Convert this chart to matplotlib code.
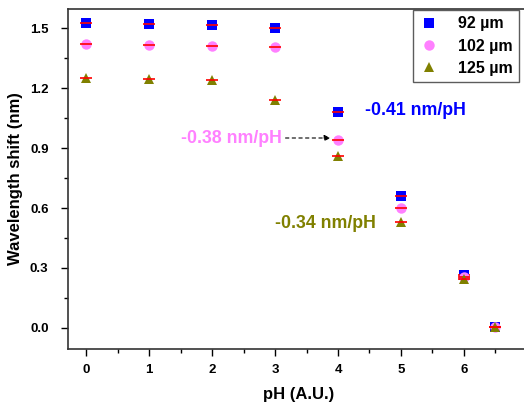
import matplotlib
matplotlib.use("Agg")
import matplotlib.pyplot as plt
import numpy as np

plt.rcParams["font.family"] = ["Liberation Sans", "DejaVu Sans"]
plt.rcParams["font.weight"] = "bold"

PH = [0, 1, 2, 3, 4, 5, 6, 6.5]
SHIFT_92 = [1.525, 1.52, 1.515, 1.50, 1.08, 0.66, 0.265, 0.005]
SHIFT_102 = [1.42, 1.415, 1.41, 1.405, 0.94, 0.60, 0.255, 0.005]
SHIFT_125 = [1.25, 1.245, 1.24, 1.14, 0.86, 0.53, 0.245, 0.005]

SERIES = [
    ("92 \u00b5m", SHIFT_92, "s", "#0000ff", 6.5),
    ("102 \u00b5m", SHIFT_102, "o", "#ff80ff", 7.5),
    ("125 \u00b5m", SHIFT_125, "^", "#808000", 7.5),
]

fig = plt.figure(figsize=(5.24, 4.03), dpi=100)
ax = fig.add_axes([68 / 524, 54 / 403, 462 / 524, 340 / 403])

for name, vals, mk, col, ms in SERIES:
    ax.plot(PH, vals, linestyle="none", marker=mk, color=col, markersize=ms,
            markeredgewidth=0, label=name)
    ax.plot(PH, vals, linestyle="none", marker="_", color="red", markersize=9,
            markeredgewidth=1.2)

ax.text(4.43, 1.09, "-0.41 nm/pH", color="#0000ff", fontsize=12.8,
        fontweight="bold", va="center", ha="left")
ax.annotate("-0.38 nm/pH", xy=(3.88, 0.95), xytext=(3.1, 0.95),
            color="#ff80ff", fontsize=12.8, fontweight="bold", va="center", ha="right",
            arrowprops=dict(arrowstyle="-|>", linestyle=(0, (3, 3)), color="black",
                            lw=0.8, shrinkA=1, shrinkB=0, mutation_scale=9))
ax.text(3.0, 0.525, "-0.34 nm/pH", color="#808000", fontsize=12.8,
        fontweight="bold", va="center", ha="left")

ax.set_xlim(-0.29, 7.05)
ax.set_ylim(-0.105, 1.595)
ax.set_xticks([0, 1, 2, 3, 4, 5, 6])
ax.set_xticks(np.arange(0.5, 7, 1), minor=True)
ax.set_yticks([0.0, 0.3, 0.6, 0.9, 1.2, 1.5])
ax.set_yticks([0.15, 0.45, 0.75, 1.05, 1.35], minor=True)
ax.set_yticklabels(["0.0", "0.3", "0.6", "0.9", "1.2", "1.5"])
ax.tick_params(direction="out", length=5, width=1, labelsize=9.5)
ax.tick_params(which="minor", direction="out", length=3, width=1)
ax.tick_params(axis="x", pad=6)
ax.tick_params(axis="y", pad=9)
for sp in ax.spines.values():
    sp.set_linewidth(1.2)
    sp.set_color("#333333")

ax.set_xlabel("pH (A.U.)", fontsize=12, fontweight="bold", labelpad=8)
ax.set_ylabel("Wavelength shift (nm)", fontsize=12, fontweight="bold", labelpad=5)

leg = ax.legend(loc="upper left", bbox_to_anchor=(345 / 462, 0.997), fontsize=11.5,
                frameon=True, fancybox=False, edgecolor="#333333", handletextpad=1.2,
                borderpad=0.4, labelspacing=0.45, handlelength=1.2, borderaxespad=0)
leg.get_frame().set_linewidth(1.0)
for t in leg.get_texts():
    t.set_fontweight("bold")

fig.savefig("out.png", dpi=100)
